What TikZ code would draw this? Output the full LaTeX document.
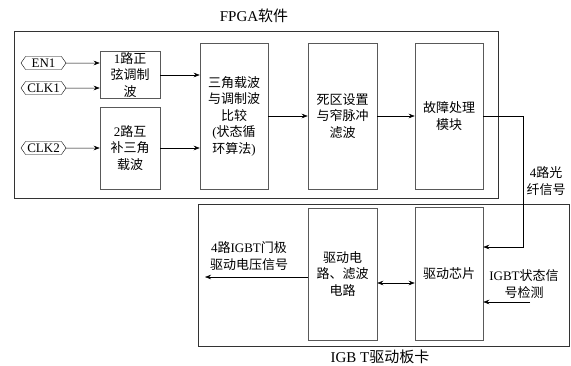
\documentclass[tikz,border=0pt]{standalone}
\usepackage{fontspec}
\setmainfont{Liberation Serif}
\newfontfamily\cjk{Noto Sans CJK SC}
\newcommand\latn[1]{{\rmfamily #1}}
\usetikzlibrary{shapes.symbols,arrows.meta}

\tikzset{
  blk/.style={draw=black!65, line width=0.5pt, align=center, inner sep=1pt,
    font=\cjk\fontsize{13}{16.5}\selectfont},
  frame/.style={draw=black!80, line width=0.7pt, inner sep=0pt},
  sig/.style={draw, shape=signal, signal to=west and east, signal pointer angle=110,
    inner sep=1pt, minimum width=45pt, minimum height=13pt, font=\fontsize{13}{13}\selectfont},
  arr/.style={-{Stealth[length=6pt,width=4.5pt]}, line width=0.5pt},
  darr/.style={{Stealth[length=6pt,width=4.5pt]}-{Stealth[length=6pt,width=4.5pt]}, line width=0.5pt},
  lbl/.style={align=center, font=\cjk\fontsize{13}{16.5}\selectfont},
  ttl/.style={font=\cjk\fontsize{15}{16}\selectfont},
}

\begin{document}
\begin{tikzpicture}[x=1pt, y=-1pt]
  \useasboundingbox (0,0) rectangle (571,365);

  % outer frames
  \node[frame, minimum width=484pt, minimum height=167pt] (fpga) at (256,114.5) {};
  \node[ttl] (fpgat) at (254,16) {\latn{FPGA}软件};
  \node[frame, minimum width=371pt, minimum height=142pt] (board) at (383.5,275) {};
  \node[ttl] (boardt) at (380,357) {\latn{IGB T}驱动板卡};

  % inputs
  \node[sig] (en1) at (43.5,63) {EN1};
  \node[sig] (clk1) at (43.5,88) {CLK1};
  \node[sig] (clk2) at (43.5,148) {CLK2};

  % FPGA blocks
  \node[blk, minimum width=60pt, minimum height=46pt] (sine) at (130,75) {\latn{1}路正\\弦调制\\波};
  \node[blk, minimum width=60pt, minimum height=82pt] (tri) at (130,148) {\latn{2}路互\\补三角\\载波};
  \node[blk, minimum width=68pt, minimum height=146pt] (cmp) at (234,116)
    {三角载波\\与调制波\\比较\\\latn{(}状态循\\环算法\latn{)}};
  \node[blk, minimum width=69pt, minimum height=146pt] (dead) at (342.5,116) {死区设置\\与窄脉冲\\滤波};
  \node[blk, minimum width=68pt, minimum height=146pt] (flt) at (449,116) {故障处理\\模块};

  % driver board blocks
  \node[blk, minimum width=69pt, minimum height=132pt] (drv) at (342.5,274) {驱动电\\路、滤波\\电路};
  \node[blk, minimum width=68pt, minimum height=133pt] (chip) at (449,273.5) {驱动芯片};

  % signal labels
  \node[lbl] (fibt) at (546,181) {\latn{4}路光\\纤信号};
  \node[lbl] (gatet) at (249,256) {\latn{4}路\latn{IGBT}门极\\驱动电压信号};
  \node[lbl] (dett) at (524,284) {\latn{IGBT}状态信\\号检测};

  \coordinate (fib) at (523,247);
  \coordinate (gate) at (205,277);
  \coordinate (det) at (530,302);

  % connectors
  \draw[arr] (en1) -- (en1 -| sine.west);
  \draw[arr] (clk1) -- (clk1 -| sine.west);
  \draw[arr] (clk2) -- (clk2 -| tri.west);
  \draw[arr] (sine) -- (sine -| cmp.west);
  \draw[arr] (tri) -- (tri -| cmp.west);
  \draw[arr] (cmp) -- (dead);
  \draw[arr] (dead) -- (flt);
  \draw[arr] (flt.east) -| (fib) -- (fib -| chip.east);
  \draw[arr] (det) -- (det -| chip.east);
  \draw[darr] ([yshift=-9pt]drv.east) -- ([yshift=-9.5pt]chip.west);
  \draw[arr] (drv.west |- gate) -- (gate);
\end{tikzpicture}
\end{document}
